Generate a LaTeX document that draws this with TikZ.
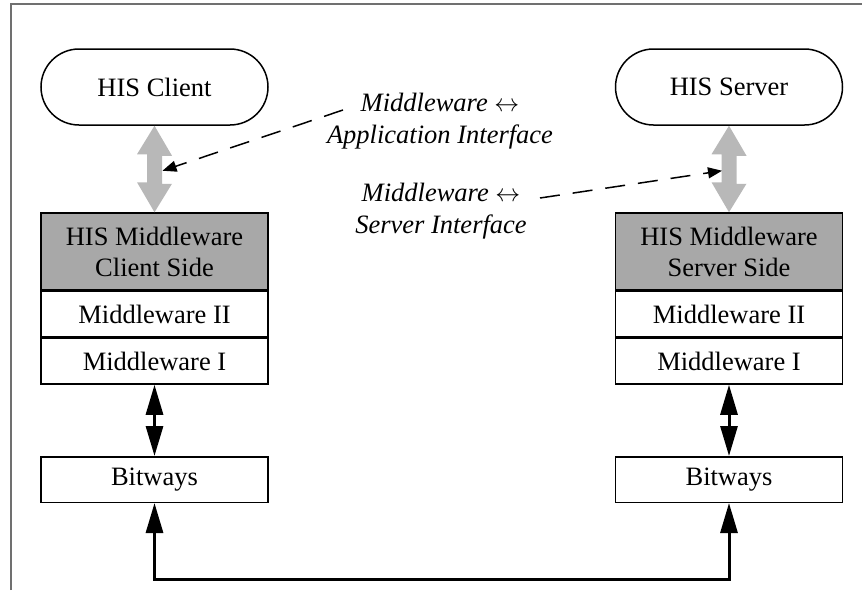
\documentclass[tikz,border=0pt]{standalone}
\usepackage{fontspec}
\setmainfont{Liberation Serif}
\usetikzlibrary{arrows.meta,calc}

\definecolor{framegray}{HTML}{707070}
\definecolor{shadegray}{HTML}{A8A8A8}
\definecolor{apigray}{HTML}{B8B8B8}

\tikzset{
  basefont/.style={font=\fontsize{26.5}{31}\selectfont},
  terminal/.style={basefont, draw, line width=1.5pt, rounded corners=38pt,
    minimum width=227pt, minimum height=76pt, inner sep=0pt},
  layer/.style={basefont, draw, line width=1.5pt, fill=white,
    minimum width=227pt, inner sep=0pt, align=center},
  shadedlayer/.style={layer, fill=shadegray, minimum height=77pt},
  thinlayer/.style={layer, minimum height=45.5pt},
  iflabel/.style={basefont, font=\fontsize{26.5}{32}\selectfont\itshape, align=center, inner sep=0pt},
  apiarrow/.style={fill=apigray},
  linkarrow/.style={line width=3pt, {Triangle[length=30pt,width=17pt]}-{Triangle[length=30pt,width=17pt]}},
  dashlink/.style={line width=1.5pt, dash pattern=on 20pt off 13pt, -{Triangle[length=14pt,width=11pt]}},
}

\begin{document}
\begin{tikzpicture}[x=1pt,y=-1pt]
\useasboundingbox (0,0) rectangle (862,590);

% partial frame
\draw[framegray, line width=2pt] (10.5,590) -- (10.5,4) -- (862,4);

% client column
\node[terminal] (cli) at (154.5,87) {HIS Client};
\node[shadedlayer] (csd) at (154.5,251.5) {HIS Middleware\\Client Side};
\node[thinlayer, anchor=north] (cm2) at (csd.south) {Middleware II};
\node[thinlayer, anchor=north] (cm1) at (cm2.south) {Middleware I};
\node[thinlayer] (cbw) at (154.5,479.5) {Bitways};

% server column
\node[terminal] (srv) at (729,87) {HIS Server};
\node[shadedlayer] (ssd) at (729,251.5) {HIS Middleware\\Server Side};
\node[thinlayer, anchor=north] (sm2) at (ssd.south) {Middleware II};
\node[thinlayer, anchor=north] (sm1) at (sm2.south) {Middleware I};
\node[thinlayer] (sbw) at (729,479.5) {Bitways};

% application interfaces (wide grey double arrows)
\fill[apiarrow] (cli.south) -- ++(17.5,30) -- ++(-10,0) -- ++(0,28) -- ++(10,0)
  -- (csd.north) -- ++(-17.5,-30) -- ++(10,0) -- ++(0,-28) -- ++(-10,0) -- cycle;
\fill[apiarrow] (srv.south) -- ++(17.5,30) -- ++(-10,0) -- ++(0,28) -- ++(10,0)
  -- (ssd.north) -- ++(-17.5,-30) -- ++(10,0) -- ++(0,-28) -- ++(-10,0) -- cycle;
\coordinate (capi) at ($(cli.south)+(8,45)$);
\coordinate (sapi) at ($(srv.south)+(-7,45)$);

% middleware to bitways
\draw[linkarrow] (cm1.south) -- (cbw.north);
\draw[linkarrow] (sm1.south) -- (sbw.north);

% network between the bitways
\draw[linkarrow, line join=miter] (cbw.south) -- ++(0,76) -| (sbw.south);

% interface labels
\node[iflabel] (lapp) at (440,121) {Middleware $\leftrightarrow$\\Application Interface};
\node[iflabel] (lsrv) at (441,211) {Middleware $\leftrightarrow$\\Server Interface};
\coordinate (lappend) at (343,110);
\coordinate (lsrvend) at (540,198);
\draw[dashlink] (lappend) -- (capi);
\draw[dashlink] (lsrvend) -- (sapi);
\end{tikzpicture}
\end{document}
